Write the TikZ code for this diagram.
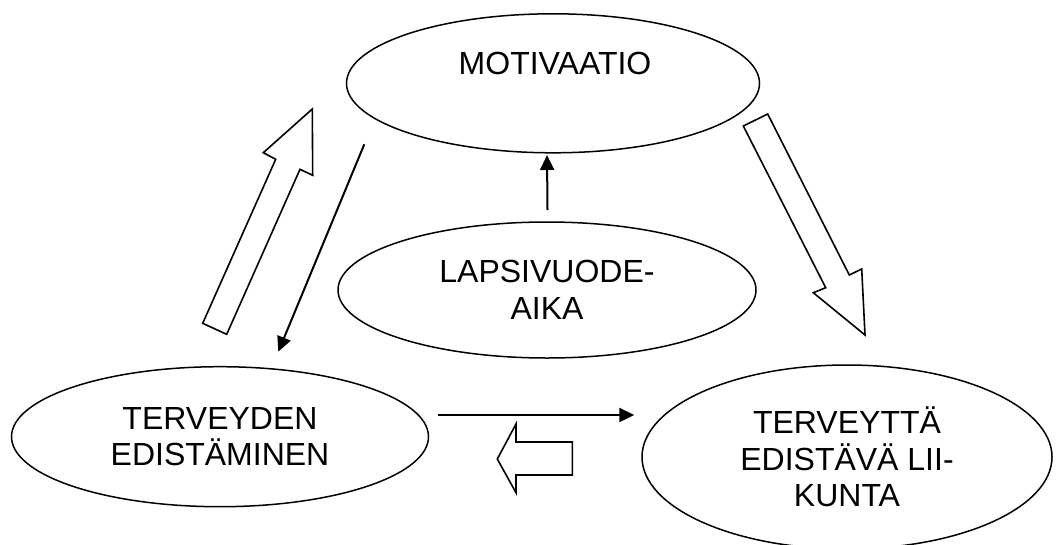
\documentclass[tikz,border=0pt]{standalone}
\usepackage{fontspec}
\setmainfont{Liberation Sans}
\usetikzlibrary{shapes.geometric,arrows.meta}
\tikzset{
  oval/.style={ellipse, draw, line width=1.5pt, inner sep=0pt, align=center,
    font=\fontsize{32pt}{36.6pt}\selectfont},
  lbl/.style={inner sep=0pt, font=\fontsize{32pt}{36.6pt}\selectfont},
  thinarrow/.style={line width=2pt, -{Triangle[length=15pt,width=14pt]}},
  blockarrow/.style={draw, line width=1.6pt, fill=white, line join=miter}
}
\begin{document}
\begin{tikzpicture}[x=1pt,y=-1pt]
\useasboundingbox (0,0) rectangle (1056,544);
\fill[white] (0,0) rectangle (1056,544);
% ellipses
\node[oval, minimum width=413pt, minimum height=139pt] (mot) at (553,83.3) {};
\node[lbl, anchor=base] (motlbl) at (555,74) {MOTIVAATIO};
\node[oval, minimum width=418pt, minimum height=136pt] (lap) at (547,290) {LAPSIVUODE-\\AIKA};
\node[oval, minimum width=417pt, minimum height=140pt] (ter) at (220,436.7) {TERVEYDEN\\EDISTÄMINEN};
\node[oval, minimum width=410pt, minimum height=184pt] (lii) at (847,457) {TERVEYTTÄ\\EDISTÄVÄ LII-\\KUNTA};
% thin arrows
\coordinate (a1s) at (364.3,144.3);
\coordinate (a1e) at (278.3,351.7);
\coordinate (a2s) at (547.5,210);
\coordinate (a2e) at (547,155);
\coordinate (a3s) at (437.7,415);
\coordinate (a3e) at (634.3,415);
\draw[thinarrow] (a1s) -- (a1e);
\draw[thinarrow] (a2s) -- (a2e);
\draw[thinarrow] (a3s) -- (a3e);
% block arrows
\draw[blockarrow] (202.7,323.3) -- (275.7,159.3) -- (263.3,152.7) -- (312.3,109)
  -- (312.7,175.3) -- (300,169.3) -- (226.7,334.3) -- cycle;
\draw[blockarrow] (743.3,126) -- (767.7,114) -- (849.3,275) -- (861.7,269)
  -- (865,335) -- (813.3,292.7) -- (825.7,287.7) -- cycle;
\draw[blockarrow] (497.3,459) -- (516,424) -- (516,442) -- (572.3,442)
  -- (572.3,475) -- (516,475) -- (516,492.7) -- cycle;
\end{tikzpicture}
\end{document}
